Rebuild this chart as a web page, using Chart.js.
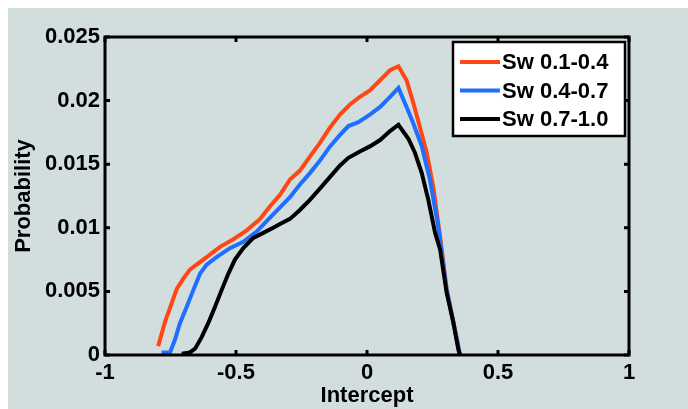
<!DOCTYPE html>
<html>
<head>
<meta charset="utf-8">
<script src="https://cdn.jsdelivr.net/npm/chart.js@4/dist/chart.umd.min.js"></script>
<style>
  html, body { margin: 0; padding: 0; background: #ffffff; }
  #wrap { position: absolute; left: 8px; top: 8px; width: 680px; height: 401px; background: #d2dede; }
</style>
</head>
<body>
<div id="wrap"><canvas id="prob_chart" width="680" height="401"></canvas></div>
<script>
// intercept distributions, one per water saturation band
const series_labels = ["Sw 0.1-0.4", "Sw 0.4-0.7", "Sw 0.7-1.0"];
const series_colors = ["rgb(255, 70, 20)", "rgb(30, 110, 255)", "rgb(0, 0, 0)"];

const sw1_x = [-0.797, -0.771, -0.745, -0.726, -0.701, -0.676, -0.644, -0.612, -0.561, -0.510, -0.459, -0.408, -0.370, -0.332, -0.294, -0.256, -0.218, -0.179, -0.141, -0.103, -0.065, -0.027, 0.011, 0.050, 0.088, 0.120, 0.151, 0.177, 0.202, 0.228, 0.253, 0.279, 0.304, 0.329, 0.355];
const sw1_y = [0.0007, 0.0026, 0.0041, 0.0052, 0.0060, 0.0067, 0.0072, 0.0077, 0.0085, 0.0091, 0.0098, 0.0107, 0.0117, 0.0126, 0.0138, 0.0145, 0.0156, 0.0167, 0.0179, 0.0189, 0.0197, 0.0203, 0.0208, 0.0216, 0.0224, 0.0227, 0.0216, 0.0198, 0.0179, 0.0159, 0.0132, 0.0093, 0.0052, 0.0027, 0.0];

const sw2_x = [-0.784, -0.752, -0.733, -0.714, -0.688, -0.663, -0.637, -0.612, -0.574, -0.523, -0.472, -0.421, -0.370, -0.332, -0.294, -0.256, -0.218, -0.179, -0.141, -0.103, -0.071, -0.033, 0.011, 0.050, 0.088, 0.120, 0.151, 0.177, 0.209, 0.240, 0.272, 0.304, 0.329, 0.355];
const sw2_y = [0.0002, 0.0002, 0.0012, 0.0025, 0.0038, 0.0051, 0.0064, 0.0071, 0.0077, 0.0084, 0.0089, 0.0097, 0.0108, 0.0116, 0.0124, 0.0134, 0.0143, 0.0153, 0.0164, 0.0173, 0.0180, 0.0183, 0.0189, 0.0195, 0.0203, 0.0210, 0.0195, 0.0182, 0.0164, 0.0138, 0.0101, 0.0051, 0.0026, 0.0];

const sw3_x = [-0.707, -0.676, -0.656, -0.631, -0.606, -0.580, -0.555, -0.529, -0.504, -0.472, -0.434, -0.396, -0.358, -0.332, -0.294, -0.256, -0.218, -0.179, -0.141, -0.103, -0.071, -0.027, 0.011, 0.050, 0.088, 0.120, 0.158, 0.183, 0.209, 0.234, 0.260, 0.279, 0.304, 0.329, 0.349, 0.355];
const sw3_y = [0.0001, 0.0002, 0.0005, 0.0014, 0.0025, 0.0038, 0.0051, 0.0064, 0.0075, 0.0084, 0.0092, 0.0096, 0.0100, 0.0103, 0.0107, 0.0114, 0.0122, 0.0131, 0.0140, 0.0149, 0.0155, 0.0160, 0.0164, 0.0169, 0.0176, 0.0181, 0.0170, 0.0159, 0.0143, 0.0122, 0.0096, 0.0083, 0.0049, 0.0026, 0.0004, 0.0];

const x_ticks = [-1, -0.5, 0, 0.5, 1];
const y_ticks = [0, 0.005, 0.01, 0.015, 0.02, 0.025];

const font_family = "'Liberation Sans', Arial, sans-serif";

function to_points(xs, ys) {
    return xs.map(function (x, i) { return {x: x, y: ys[i]}; });
}

const all_x = [sw1_x, sw2_x, sw3_x];
const all_y = [sw1_y, sw2_y, sw3_y];

const datasets = series_labels.map(function (label, i) {
    return {
        "label": label,
        "data": to_points(all_x[i], all_y[i]),
        "borderColor": series_colors[i],
        "backgroundColor": series_colors[i],
        "borderWidth": 4,
        "pointRadius": 0,
        "tension": 0,
        "fill": false,
        "order": 3 - i   // black drawn last, on top
    };
});

// box frame, inward ticks on all four sides and the boxed legend
const frame_plugin = {
    id: "frame_plugin",
    afterDraw: function (chart) {
        const ctx = chart.ctx;
        const area = chart.chartArea;
        const xs = chart.scales.x;
        const ys = chart.scales.y;
        ctx.save();
        ctx.strokeStyle = "#000";
        ctx.lineWidth = 3;
        ctx.strokeRect(area.left, area.top, area.right - area.left, area.bottom - area.top);

        ctx.lineWidth = 3;
        const tl = 5;
        ctx.beginPath();
        x_ticks.forEach(function (v) {
            const px = xs.getPixelForValue(v);
            ctx.moveTo(px, area.bottom); ctx.lineTo(px, area.bottom - tl);
            ctx.moveTo(px, area.top); ctx.lineTo(px, area.top + tl);
        });
        y_ticks.forEach(function (v) {
            const py = ys.getPixelForValue(v);
            ctx.moveTo(area.left, py); ctx.lineTo(area.left + tl, py);
            ctx.moveTo(area.right, py); ctx.lineTo(area.right - tl, py);
        });
        ctx.stroke();

        // legend
        const lx = 445, ly = 34, lw = 172, lh = 94;
        ctx.fillStyle = "#fff";
        ctx.fillRect(lx, ly, lw, lh);
        ctx.lineWidth = 2.5;
        ctx.strokeRect(lx, ly, lw, lh);
        ctx.font = "bold 22px " + font_family;
        ctx.textBaseline = "middle";
        ctx.textAlign = "left";
        chart.data.datasets.forEach(function (ds, i) {
            const row_y = ly + 20 + i * 28.5;
            ctx.strokeStyle = ds.borderColor;
            ctx.lineWidth = 4;
            ctx.beginPath();
            ctx.moveTo(lx + 7, row_y);
            ctx.lineTo(lx + 47, row_y);
            ctx.stroke();
            ctx.fillStyle = "#000";
            ctx.fillText(ds.label, lx + 49, row_y + 1);
        });
        ctx.restore();
    }
};

new Chart(document.getElementById("prob_chart").getContext("2d"), {
    "type": "line",
    "data": {"datasets": datasets},
    "options": {
        "responsive": false,
        "animation": false,
        "layout": {"padding": {"top": 29, "right": 59, "left": 0, "bottom": 0}},
        "plugins": {
            "legend": {"display": false},
            "tooltip": {"enabled": false}
        },
        "scales": {
            "x": {
                "type": "linear",
                "min": -1,
                "max": 1,
                "afterBuildTicks": function (scale) {
                    scale.ticks = x_ticks.map(function (v) { return {value: v}; });
                },
                "afterFit": function (scale) { scale.height = 54; },
                "grid": {"display": false, "drawTicks": false},
                "border": {"display": false},
                "ticks": {
                    "color": "#000",
                    "padding": 5,
                    "maxRotation": 0,
                    "font": {"family": font_family, "size": 22, "weight": "bold"},
                    "callback": function (v) { return String(v); }
                },
                "title": {
                    "display": true,
                    "text": "Intercept",
                    "color": "#000",
                    "padding": {"top": 0, "bottom": 0},
                    "font": {"family": font_family, "size": 22, "weight": "bold"}
                }
            },
            "y": {
                "type": "linear",
                "min": 0,
                "max": 0.025,
                "afterBuildTicks": function (scale) {
                    scale.ticks = y_ticks.map(function (v) { return {value: v}; });
                },
                "afterFit": function (scale) { scale.width = 97; },
                "grid": {"display": false, "drawTicks": false},
                "border": {"display": false},
                "ticks": {
                    "color": "#000",
                    "padding": 5,
                    "font": {"family": font_family, "size": 22, "weight": "bold"},
                    "callback": function (v) { return String(parseFloat(v.toFixed(3))); }
                },
                "title": {
                    "display": true,
                    "text": "Probability",
                    "color": "#000",
                    "padding": {"top": 3, "bottom": 0},
                    "font": {"family": font_family, "size": 22, "weight": "bold"}
                }
            }
        }
    },
    "plugins": [frame_plugin]
});
</script>
</body>
</html>
